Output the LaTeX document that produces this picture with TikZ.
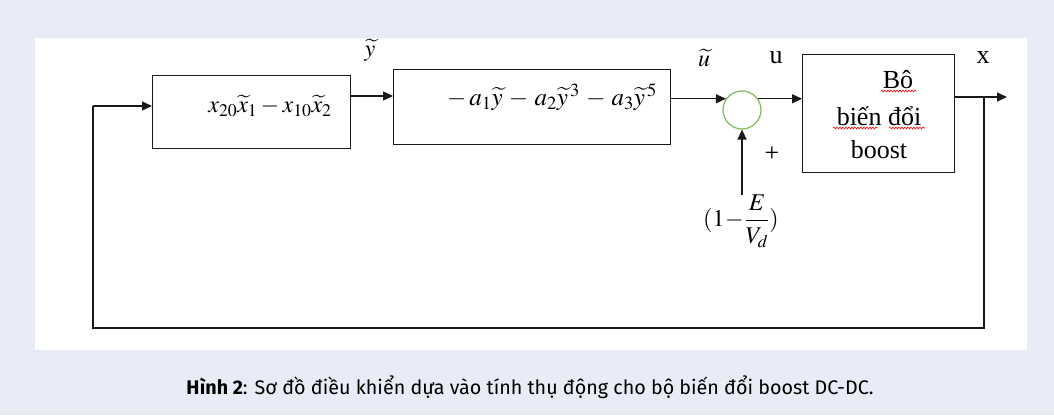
\RequirePackage{fix-cm}
\documentclass[tikz,border=0pt]{standalone}
\usepackage{mathptmx}
\usepackage{fontspec}
\setmainfont{Liberation Serif}
\newfontfamily\capfont{Fira Sans}
\usetikzlibrary{arrows.meta,decorations.pathmorphing}
\definecolor{bgc}{RGB}{232,236,246}
\definecolor{ringc}{RGB}{125,185,90}
\definecolor{linec}{RGB}{25,25,25}
\begin{document}
\begin{tikzpicture}[x=1pt,y=-1pt,
  line width=1.4pt, draw=linec,
  >={Triangle[length=10pt,width=9pt]},
  blk/.style={draw=linec, line width=1.4pt, inner sep=0pt, anchor=north west},
  mth/.style={font=\fontsize{24}{28}\selectfont, inner sep=0pt},
  txt/.style={font=\fontsize{26}{30}\selectfont, inner sep=0pt},
  spell/.style={draw=red, line width=0.6pt, decorate, decoration={snake, amplitude=0.9pt, segment length=3pt}}]
\fill[bgc] (0,0) rectangle (1054,415);
\fill[white] (35,38) rectangle (1027,350);
\useasboundingbox (0,0) rectangle (1054,415);
% blocks
\node[blk, minimum width=198pt, minimum height=73pt] (b1) at (152,75) {};
\node[blk, minimum width=277pt, minimum height=75pt] (b2) at (393,69) {};
\node[blk, minimum width=152pt, minimum height=118pt] (b3) at (802,54) {};
\node[draw=ringc, circle, minimum size=38pt, inner sep=0pt, line width=1.2pt] (sum) at (742,110) {};
% block texts
\node[mth] (t1) at (270,106) {$x_{20}\widetilde{x}_1-x_{10}\widetilde{x}_2$};
\node[mth, font=\fontsize{25}{29}\selectfont] (t2) at (552,97) {$-\,a_1\widetilde{y}\,-\,a_2\widetilde{y}^{\,3}\,-\,a_3\widetilde{y}^{\,5}$};
\node[txt] (t3a) at (898,80) {Bô};
\node[txt] (t3b) at (879,116) {biến đổi};
\node[txt] (t3c) at (879,150) {boost};
\draw[spell] (881,91) -- (916,91);
\draw[spell] (833,128) -- (877,128);
\draw[spell] (889,128) -- (925,128);
% labels
\node[mth] (ly) at (370,50) {$\widetilde{y}$};
\node[mth] (lu) at (704,58) {$\widetilde{u}$};
\node[txt] (lu2) at (776,58) {u};
\node[txt] (lx) at (983,58) {x};
\node[txt] (lp) at (772,154) {+};
\node[mth] (frac) at (741,221) {$\displaystyle(1\!-\!\frac{E}{V_d})$};
% connectors
\draw[->] (b1.east |- 0,96) -- (b2.west |- 0,96);
\draw[->] (b2.east |- sum.145) -- (sum.145);
\draw[->] (sum.35) -- (b3.west |- sum.35);
\coordinate (out) at (1007,97);
\coordinate (fb) at (984,97);
\coordinate (fbr) at (984,328);
\coordinate (fbl) at (93,328);
\coordinate (fbu) at (93,106);
\coordinate (vin) at (742,195);
\draw[->] (b3.east |- out) -- (out);
\draw (fb) -- (fbr) -- (fbl) -- (fbu);
\draw[->] (fbu) -- (b1.west |- fbu);
\draw[->] (vin) -- (sum.south);
% caption
\node[font=\capfont\fontsize{19.7}{23}\selectfont, inner sep=0pt] (cap) at (530,387) {\textbf{Hình 2}: Sơ đồ điều khiển dựa vào tính thụ động cho bộ biến đổi boost DC-DC.};
\end{tikzpicture}
\end{document}
